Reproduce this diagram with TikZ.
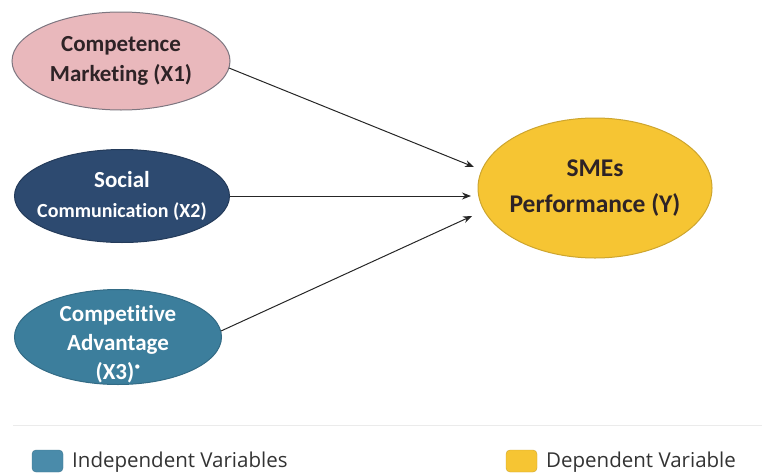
\documentclass[tikz,border=0pt]{standalone}
\usepackage{fontspec}
\setmainfont{Carlito}[RawFeature=-liga]
\newfontfamily\legendfont{Open Sans}
\usetikzlibrary{shapes.geometric,arrows.meta}
\definecolor{pinkfill}{HTML}{E9B8BC}
\definecolor{pinkedge}{HTML}{7D7680}
\definecolor{navyfill}{HTML}{2D4A70}
\definecolor{tealfill}{HTML}{3C7E9C}
\definecolor{yellowfill}{HTML}{F6C533}
\definecolor{yellowedge}{HTML}{CDA52E}
\definecolor{darktext}{HTML}{2E2326}
\definecolor{legendtext}{HTML}{333333}
\definecolor{tealleg}{HTML}{4A8BAA}
\tikzset{
  var/.style={ellipse, draw=#1, line width=1pt, align=center, inner sep=-20pt, font=\bfseries\fontsize{23}{30}\selectfont},
  vartext/.style={align=center, inner sep=0pt, font=\bfseries\fontsize{23}{29}\selectfont},
  link/.style={-{Stealth[length=9pt,width=7pt]}, line width=1pt, draw=black!85},
  legbox/.style={rounded corners=4pt, minimum width=31pt, minimum height=22pt, inner sep=0pt},
  legtext/.style={anchor=west, inner sep=0pt, font=\legendfont\fontsize{20.5}{22}\selectfont, text=legendtext}
}
\begin{document}
\begin{tikzpicture}[x=1pt,y=-1pt]
\useasboundingbox (0,0) rectangle (762,474);
\node[var=pinkedge, fill=pinkfill, text=darktext, minimum width=218pt, minimum height=98pt] (x1) at (121,61) {Competence\\Marketing (X1)};
\node[var=navyfill!80!black, fill=navyfill, text=white, minimum width=215pt, minimum height=93pt] (x2) at (122,196) {Social\\{\fontsize{20}{30}\selectfont Communication (X2)}};
\node[var=tealfill!85!black, fill=tealfill, minimum width=207pt, minimum height=95pt] (x3) at (118,337) {};
\node[vartext, text=white] (x3t) at (118,344) {Competitive\\Advantage\\(X3)\raisebox{0.5ex}{\textperiodcentered}};
\node[var=yellowedge, fill=yellowfill, text=darktext, minimum width=234pt, minimum height=140pt, font=\bfseries\fontsize{25.5}{36}\selectfont] (y) at (595,188) {SMEs\\Performance (Y)};
\coordinate (t1) at (474,167);
\coordinate (t2) at (471,196);
\coordinate (t3) at (472,216);
\coordinate (s1) at (229,68);
\coordinate (s3) at (221,331);
\draw[link] (s1) -- (t1);
\draw[link] (x2.east) -- (t2);
\draw[link] (s3) -- (t3);
\coordinate (l1) at (13,425);
\coordinate (l2) at (762,425);
\draw[black!8, line width=1pt] (l1) -- (l2);
\node[legbox, fill=tealleg, draw=tealleg!85!black] (kb1) at (47.5,461) {};
\node[legtext] (kt1) at (72,462) {Independent Variables};
\node[legbox, fill=yellowfill, draw=yellowedge] (kb2) at (521.5,461) {};
\node[legtext] (kt2) at (546,462) {Dependent Variable};
\end{tikzpicture}
\end{document}
